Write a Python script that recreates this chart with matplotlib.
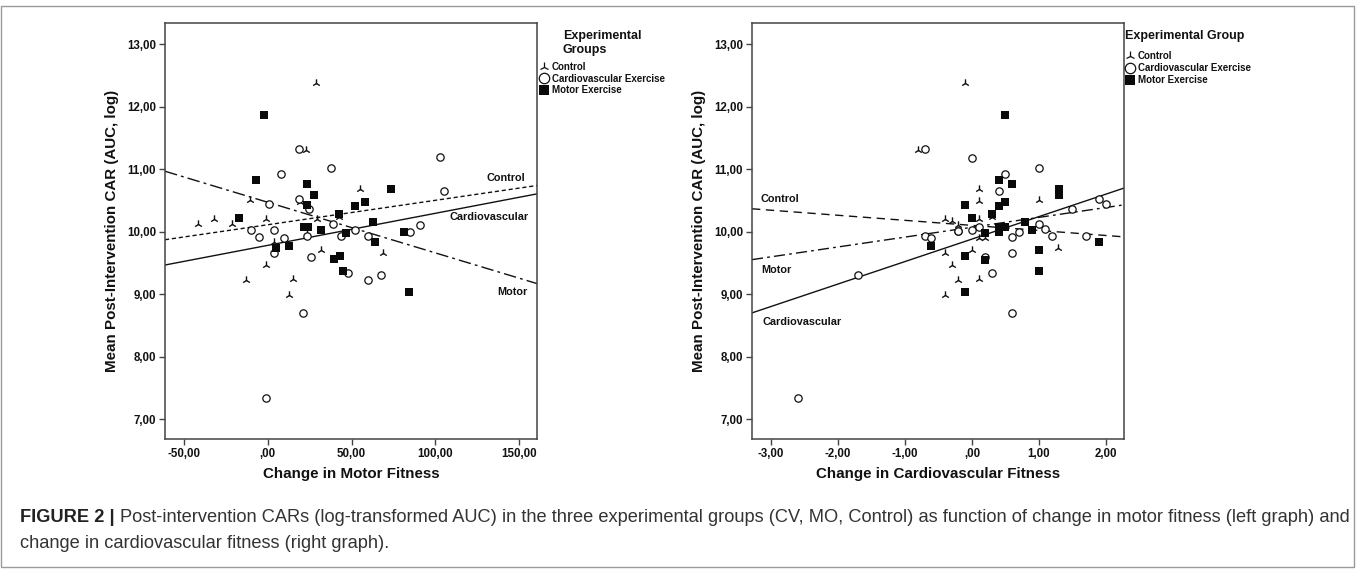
import matplotlib
matplotlib.use('Agg')
import matplotlib.pyplot as plt
from matplotlib.lines import Line2D
from matplotlib.patches import Rectangle
from matplotlib.ticker import FuncFormatter, FixedLocator
from matplotlib import font_manager

plt.rcParams['font.family'] = ['Liberation Sans', 'DejaVu Sans']

# ---------------- data: left graph (change in motor fitness) ----------------
ctrl_motor_x = [28.9, 22.9, 19.3, -10.6, -1.0, -41.4, -32.1, -21.5, 54.8, 29.3,
                42.8, 23.5, 3.6, -13.1, -1.0, 14.9, 12.7, 31.9, 68.7]
ctrl_motor_y = [12.38, 11.30, 10.48, 10.50, 10.21, 10.12, 10.20, 10.12, 10.69, 10.20,
                10.24, 9.97, 9.83, 9.23, 9.47, 9.24, 8.98, 9.71, 9.66]
cv_motor_x = [18.7, 7.8, 37.8, 103.0, 105.0, 18.9, 0.8, 24.9, -10.2, -5.2, 3.8, 10.0, 23.7,
              38.8, 43.8, 51.8, 59.8, 85.1, 91.0, 3.8, 25.9, 48.2, 60.0, 67.7, 20.9, -1.2]
cv_motor_y = [11.33, 10.92, 11.02, 11.19, 10.65, 10.53, 10.44, 10.37, 10.03, 9.92, 10.02, 9.90, 9.93,
              10.13, 9.93, 10.03, 9.93, 9.99, 10.10, 9.66, 9.60, 9.34, 9.22, 9.31, 8.70, 7.33]
mo_motor_x = [-2.0, -7.2, 23.7, 27.9, 23.7, -17.1, 42.8, 51.8, 57.8, 73.7, 62.7, 21.9,
              23.9, 31.9, 46.8, 81.1, 63.9, 5.0, 12.9, 39.8, 43.0, 44.8, 84.1]
mo_motor_y = [11.87, 10.83, 10.76, 10.58, 10.42, 10.22, 10.29, 10.41, 10.47, 10.68, 10.16, 10.07,
              10.07, 10.03, 9.97, 9.99, 9.83, 9.73, 9.77, 9.56, 9.61, 9.37, 9.04]

# fit lines (intercept at x=0, slope)
fit_motor_groups = ['Control', 'Cardiovascular', 'Motor']
fit_motor_intercept = [10.11, 9.78, 10.47]
fit_motor_slope = [0.00391, 0.00513, -0.0081]
label_motor_pos = [(153.5, 10.86), (156.0, 10.23), (155.0, 9.04)]

# ---------------- data: right graph (change in cardiovascular fitness) ----------------
ctrl_cv_x = [-0.10, -0.80, 0.10, 0.10, 1.00, -0.40, -0.30, -0.21, 0.10, 0.30,
             0.10, 0.20, -0.40, -0.30, 0.00, -0.20, 0.10, -0.40, 1.29]
ctrl_cv_y = [12.38, 11.30, 10.69, 10.49, 10.50, 10.20, 10.17, 10.11, 10.20, 10.23,
             9.89, 9.89, 9.66, 9.47, 9.71, 9.23, 9.24, 8.98, 9.74]
cv_cv_x = [-0.70, 0.00, 1.00, 0.50, 0.40, 1.90, 2.00, 1.49, -0.20, 0.00, 0.10, -0.70, -0.61,
           0.60, 0.70, 1.00, 1.09, 1.19, 1.70, -1.70, -2.60, 0.60, 0.20, 0.30, 0.60, -0.20]
cv_cv_y = [11.33, 11.18, 11.02, 10.92, 10.65, 10.53, 10.44, 10.37, 10.01, 10.03, 10.08, 9.93, 9.90,
           9.92, 9.99, 10.13, 10.04, 9.93, 9.93, 9.30, 7.33, 9.66, 9.59, 9.33, 8.69, 10.01]
mo_cv_x = [0.50, 0.40, 0.60, 1.30, 1.30, -0.10, 0.50, 0.40, 0.00, 0.30, 0.80, 0.40,
           0.50, 0.20, 0.90, 0.40, 1.90, -0.61, 1.00, 0.20, -0.10, 1.00, -0.10]
mo_cv_y = [11.87, 10.83, 10.76, 10.68, 10.58, 10.42, 10.47, 10.41, 10.22, 10.29, 10.16, 10.07,
           10.07, 9.97, 10.03, 9.99, 9.83, 9.77, 9.71, 9.55, 9.61, 9.37, 9.03]

fit_cv_groups = ['Control', 'Cardiovascular', 'Motor']
fit_cv_intercept = [10.10, 9.88, 10.07]
fit_cv_slope = [-0.081, 0.36, 0.158]
label_cv_pos = [(-3.15, 10.53), (-3.12, 8.55), (-3.14, 9.38)]

y_ticks = [7, 8, 9, 10, 11, 12, 13]
x_ticks_motor = [-50, 0, 50, 100, 150]
x_ticks_cv = [-3, -2, -1, 0, 1, 2]

legend_names = ['Control', 'Cardiovascular Exercise', 'Motor Exercise']

caption_bold = "FIGURE 2 |"
caption_line1 = ("Post-intervention CARs (log-transformed AUC) in the three experimental groups "
                 "(CV, MO, Control) as function of change in motor fitness (left graph) and")
caption_line2 = "change in cardiovascular fitness (right graph)."

# ---------------- styling ----------------
W, H = 1357, 569
fig = plt.figure(figsize=(W / 100, H / 100), dpi=100)
INK = '#111111'
SPINE = '#444444'
TICK_FS = 8.3
LAB_FS = 10.9

line_styles = {'Control_motor': (0, (3, 2)),
               'Cardiovascular_motor': '-',
               'Motor_motor': (0, (9, 3, 2, 3)),
               'Control_cv': (0, (6, 4)),
               'Cardiovascular_cv': '-',
               'Motor_cv': (0, (8, 3, 2, 3))}


def fmt(v, pos=None):
    s = f"{v:.2f}".replace('.', ',')
    if s.startswith('0,'):
        s = s[1:]
    if s.startswith('-0,'):
        s = s[2:]
    return s


def px_axes(x0, y0, x1, y1):
    return fig.add_axes([x0 / W, 1 - y1 / H, (x1 - x0) / W, (y1 - y0) / H])


def style_axes(ax, xticks, xlim, xlabel):
    ax.set_xlim(*xlim)
    ax.set_ylim(6.68, 13.34)
    ax.xaxis.set_major_locator(FixedLocator(xticks))
    ax.yaxis.set_major_locator(FixedLocator(y_ticks))
    ax.xaxis.set_major_formatter(FuncFormatter(fmt))
    ax.yaxis.set_major_formatter(FuncFormatter(fmt))
    for sp in ax.spines.values():
        sp.set_color(SPINE)
        sp.set_linewidth(1.1)
    ax.tick_params(direction='out', length=4, width=1, color=SPINE, labelsize=TICK_FS,
                   labelcolor=INK, pad=2.5)
    for lab in ax.get_xticklabels() + ax.get_yticklabels():
        lab.set_fontweight('bold')
    ax.set_xlabel(xlabel, fontsize=LAB_FS, fontweight='bold', color=INK, labelpad=5)
    ax.set_ylabel('Mean Post-Intervention CAR (AUC, log)', fontsize=LAB_FS,
                  fontweight='bold', color=INK, labelpad=6)


def draw_points(ax, cx, cy, vx, vy, mx, my):
    ax.scatter(cx, cy, marker='2', s=36, c='#111111', linewidths=1.0, zorder=3)
    ax.scatter(vx, vy, marker='o', s=28, facecolors='white', edgecolors='#111111',
               linewidths=0.9, zorder=4)
    ax.scatter(mx, my, marker='s', s=32, c='#0a0a0a', linewidths=0, zorder=5)


def draw_fits(ax, groups, icpt, slope, suffix):
    for g, b, m in zip(groups, icpt, slope):
        ax.axline((0, b), slope=m, color='#111111', lw=1.0, ls=line_styles[f'{g}_{suffix}'],
                  zorder=2)


# left graph
axL = px_axes(165, 23, 537, 439)
draw_fits(axL, fit_motor_groups, fit_motor_intercept, fit_motor_slope, 'motor')
draw_points(axL, ctrl_motor_x, ctrl_motor_y, cv_motor_x, cv_motor_y, mo_motor_x, mo_motor_y)
style_axes(axL, x_ticks_motor, (-61.3, 160.7), 'Change in Motor Fitness')
for g, (x, y) in zip(fit_motor_groups, label_motor_pos):
    axL.text(x, y, g, ha='right', va='center', fontsize=7.8, fontweight='bold', color=INK)

# right graph
axR = px_axes(752, 23, 1124, 439)
draw_fits(axR, fit_cv_groups, fit_cv_intercept, fit_cv_slope, 'cv')
draw_points(axR, ctrl_cv_x, ctrl_cv_y, cv_cv_x, cv_cv_y, mo_cv_x, mo_cv_y)
style_axes(axR, x_ticks_cv, (-3.28, 2.27), 'Change in Cardiovascular Fitness')
for g, (x, y) in zip(fit_cv_groups, label_cv_pos):
    axR.text(x, y, g, ha='left', va='center', fontsize=7.8, fontweight='bold', color=INK)


# legends
def handles():
    return [Line2D([], [], ls='none', marker='2', ms=7, mew=0.9, color='#111111'),
            Line2D([], [], ls='none', marker='o', ms=7.5, mfc='white', mec='#111111', mew=0.9),
            Line2D([], [], ls='none', marker='s', ms=7, mfc='#0a0a0a', mec='#0a0a0a', mew=0)]


common = dict(loc='upper left', frameon=False, borderpad=0, handlelength=1.05,
              handletextpad=0.3, borderaxespad=0,
              prop={'size': 7.0, 'weight': 'bold'},
              title_fontproperties={'size': 9, 'weight': 'bold'})
legL = fig.legend(handles(), legend_names, bbox_to_anchor=(539 / W, 1 - 30 / H),
                  title='Experimental\nGroups', labelspacing=0.16, **common)
legR = fig.legend(handles(), legend_names, bbox_to_anchor=(1125 / W, 1 - 30 / H),
                  title='Experimental Group', alignment='left', labelspacing=0.2, **common)
for leg, gap in ((legL, 4.5), (legR, 6.5)):
    for t in leg.get_texts():
        t.set_color(INK)
    leg.get_title().set_color(INK)
    leg._legend_box.sep = gap

# outer frame
fig.patches.append(Rectangle((1 / W, 1 - 567 / H), 1353 / W, 561 / H, transform=fig.transFigure,
                             fill=False, ec='#9a9a9a', lw=1.0))

# caption
cap_family = ['Liberation Sans']
try:
    font_manager.findfont(font_manager.FontProperties(family='Liberation Sans Narrow'),
                          fallback_to_default=False)
    cap_family = ['Liberation Sans Narrow', 'Liberation Sans']
except Exception:
    pass

renderer = fig.canvas.get_renderer()
cap_fs = 11
tb = fig.text(20 / W, 1 - 518 / H, caption_bold, fontsize=cap_fs, fontweight='bold',
              family=cap_family, color='#222222', va='center', ha='left')
bb = tb.get_window_extent(renderer)
t1 = fig.text((bb.x1 + 5) / W, 1 - 518 / H, caption_line1, fontsize=cap_fs,
              family=cap_family, color='#333333', va='center', ha='left')
b1 = t1.get_window_extent(renderer)
target = 1345
scale = (target - 20) / (b1.x1 - 20)
cap_fs *= scale
tb.set_fontsize(cap_fs)
bb = tb.get_window_extent(renderer)
t1.set_fontsize(cap_fs)
t1.set_x((bb.x1 + 5) / W)
fig.text(20 / W, 1 - 544 / H, caption_line2, fontsize=cap_fs, family=cap_family,
         color='#333333', va='center', ha='left')

fig.savefig('out.png', dpi=100)
